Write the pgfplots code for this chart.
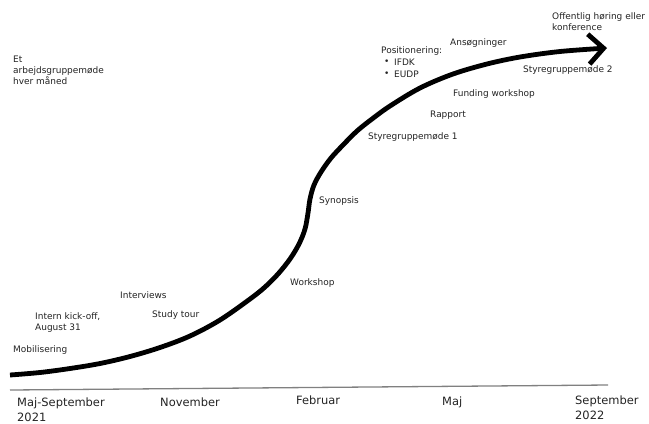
\documentclass[border=0pt]{standalone}
\usepackage{pgfplots}
\pgfplotsset{compat=1.18}
\usepackage{fontspec}
\setmainfont{DejaVu Sans}
\usetikzlibrary{arrows.meta}
\definecolor{txt}{RGB}{35,35,35}
\tikzset{
  lbl/.style={font=\fontsize{9}{11}\selectfont, text=txt, inner sep=0pt, anchor=west, align=left},
  axl/.style={font=\fontsize{11.5}{15}\selectfont, text=txt, inner sep=0pt, anchor=west, align=left},
}
\begin{document}
\begin{tikzpicture}
\begin{axis}[
  x=1bp, y=1bp, y dir=reverse,
  xmin=0, xmax=649, ymin=0, ymax=423,
  hide axis, clip=false,
]
% baseline
\addplot[gray, line width=1.3bp] coordinates {(10,390) (608,385)};
% S-curve
\addplot[black, line width=4.8bp, smooth, tension=0.55,
  -{Straight Barb[length=15bp,width=30bp]}] coordinates {
  (10,375) (40,372.5) (70,368.5) (100,363.5) (130,356.5) (160,347.5)
  (190,336) (220,320) (250,299) (265,287) (278,274) (290,259) (299,244)
  (305,229) (308,213) (310,199) (314,185) (321,172) (331,158) (343,145)
  (357,131) (372,119) (390,106) (420,88) (453,74) (487,64) (520,57)
  (560,51.5) (607,48)};
% labels
\node[lbl] at (axis cs:13,70) {Et\\arbejdsgruppemøde\\hver måned};
\node[lbl] at (axis cs:552,21.5) {Offentlig høring eller\\konference};
\node[lbl] at (axis cs:450,43) {Ansøgninger};
\node[lbl] at (axis cs:381,51) {Positionering:};
\node[lbl] at (axis cs:384,62) {•};
\node[lbl] at (axis cs:394,62) {IFDK};
\node[lbl] at (axis cs:384,74) {•};
\node[lbl] at (axis cs:394,74) {EUDP};
\node[lbl] at (axis cs:523,70) {Styregruppemøde 2};
\node[lbl] at (axis cs:453,94) {Funding workshop};
\node[lbl] at (axis cs:430,115) {Rapport};
\node[lbl] at (axis cs:368,137) {Styregruppemøde 1};
\node[lbl] at (axis cs:319,201) {Synopsis};
\node[lbl] at (axis cs:290,283) {Workshop};
\node[lbl] at (axis cs:120,295) {Interviews};
\node[lbl] at (axis cs:35,322.5) {Intern kick-off,\\August 31};
\node[lbl] at (axis cs:152,315) {Study tour};
\node[lbl] at (axis cs:13,350) {Mobilisering};
% time axis labels
\node[axl] at (axis cs:17,409.5) {Maj-September\\2021};
\node[axl] at (axis cs:160,402) {November};
\node[axl] at (axis cs:296,400) {Februar};
\node[axl] at (axis cs:442,402) {Maj};
\node[axl] at (axis cs:575,407.5) {September\\2022};
\coordinate (SW) at (axis cs:0,423);
\coordinate (NE) at (axis cs:649,0);
\end{axis}
\pgfresetboundingbox
\path (SW) rectangle (NE);
\end{tikzpicture}
\end{document}
